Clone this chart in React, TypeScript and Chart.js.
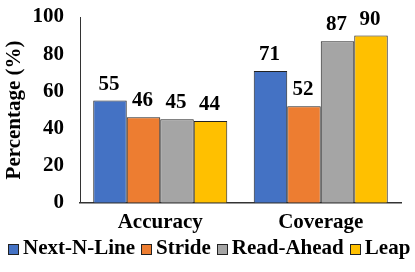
import React, { useEffect, useRef } from "react";
import { Chart, registerables } from "chart.js";

Chart.register(...registerables);

const categories = ["Accuracy", "Coverage"];
const seriesNames = ["Next-N-Line", "Stride", "Read-Ahead", "Leap"];
const nextNLine = [55, 71];
const stride = [46, 52];
const readAhead = [45, 87];
const leap = [44, 90];
const colors = ["#4472C4", "#ED7D31", "#A5A5A5", "#FFC000"];
const yTicks = [0, 20, 40, 60, 80, 100];

const FONT = "'Liberation Serif', 'Times New Roman', serif";
const FS = 21;

const labelPlugin = {
  id: "barLabels",
  afterDatasetsDraw(chart: any) {
    const ctx = chart.ctx;
    ctx.save();
    ctx.font = `bold ${FS}px ${FONT}`;
    ctx.fillStyle = "#000";
    ctx.textAlign = "center";
    ctx.textBaseline = "alphabetic";
    chart.data.datasets.forEach((ds: any, i: number) => {
      const meta = chart.getDatasetMeta(i);
      meta.data.forEach((bar: any, j: number) => {
        ctx.fillText(String(ds.data[j]), bar.x - 1, bar.y - 11);
      });
    });
    ctx.restore();
  },
};

const legendPlugin = {
  id: "customLegend",
  afterDraw(chart: any) {
    const ctx = chart.ctx;
    ctx.save();
    ctx.font = `bold ${FS}px ${FONT}`;
    const box = 11;
    const gapBox = 4;
    const gapItem = 6;
    const items = chart.data.datasets.map((ds: any) => ({
      label: ds.label,
      color: ds.backgroundColor,
      w: ctx.measureText(ds.label).width,
    }));
    const total =
      items.reduce((s: number, it: any) => s + box + gapBox + it.w, 0) +
      gapItem * (items.length - 1);
    let x = Math.round((chart.width - total) / 2) + 2;
    const cy = 249;
    ctx.textBaseline = "middle";
    ctx.textAlign = "left";
    items.forEach((it: any) => {
      const bx = Math.round(x);
      ctx.fillStyle = it.color;
      ctx.fillRect(bx, cy - 5, box, box);
      ctx.strokeStyle = "#222";
      ctx.lineWidth = 1;
      ctx.strokeRect(bx + 0.5, cy - 5 + 0.5, box - 1, box - 1);
      ctx.fillStyle = "#000";
      ctx.fillText(it.label, x + box + gapBox, cy);
      x += box + gapBox + it.w + gapItem;
    });
    ctx.restore();
  },
};

export default function App() {
  const ref = useRef<HTMLCanvasElement>(null);
  useEffect(() => {
    document.body.style.margin = "0";
    const seriesData = [nextNLine, stride, readAhead, leap];
    const chart = new Chart(ref.current!, {
      type: "bar",
      data: {
        labels: categories,
        datasets: seriesNames.map((name, i) => ({
          label: name,
          data: seriesData[i],
          backgroundColor: colors[i],
          borderColor: "#222",
          borderWidth: 1,
          categoryPercentage: 0.835,
          barPercentage: 1,
        })),
      },
      options: {
        animation: false,
        responsive: false,
        maintainAspectRatio: false,
        layout: { padding: { left: 0, right: 14, top: 17, bottom: 30 } },
        plugins: {
          legend: { display: false },
          tooltip: { enabled: false },
        },
        scales: {
          x: {
            grid: { display: false, drawTicks: false },
            border: { display: true, color: "#333", width: 1.5 },
            ticks: {
              color: "#000",
              padding: 7,
              font: { family: FONT, size: FS, weight: "bold" },
            },
          },
          y: {
            min: 0,
            max: 100,
            afterBuildTicks: (axis: any) => {
              axis.ticks = yTicks.map((v) => ({ value: v }));
            },
            afterFit: (axis: any) => {
              axis.width = 80;
            },
            grid: { display: false, drawTicks: true, tickLength: 16 },
            border: { display: true, color: "#333", width: 1 },
            title: {
              display: true,
              text: "Percentage (%)",
              color: "#000",
              padding: { top: 2, bottom: 0 },
              font: { family: FONT, size: FS, weight: "bold" },
            },
            ticks: {
              autoSkip: false,
              color: "#000",
              padding: 0,
              font: { family: FONT, size: FS, weight: "bold" },
            },
          },
        },
      },
      plugins: [labelPlugin, legendPlugin],
    });
    return () => chart.destroy();
  }, []);
  return (
    <div style={{ width: 415, height: 272 }}>
      <canvas ref={ref} width={415} height={272} />
    </div>
  );
}
